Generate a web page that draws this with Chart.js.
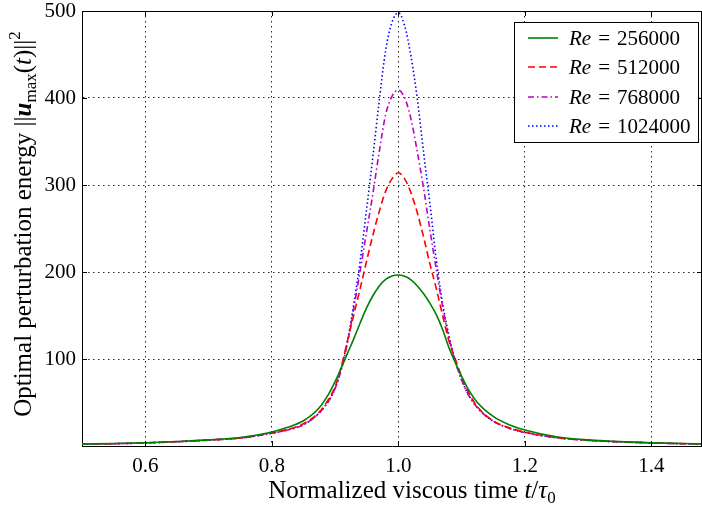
<!DOCTYPE html>
<html>
<head>
<meta charset="utf-8">
<script src="https://cdn.jsdelivr.net/npm/chart.js@4.4.0/dist/chart.umd.min.js"></script>
<style>
  html, body { margin: 0; padding: 0; background: #fff; }
</style>
</head>
<body>
<canvas id="energy" width="702" height="505"></canvas>
<script>
// normalized viscous time t/tau0
const times = [0.5, 0.55, 0.6, 0.65, 0.7, 0.75, 0.8, 0.825, 0.85, 0.875, 0.89, 0.9, 0.91, 0.92, 0.93,
  0.94, 0.95, 0.96, 0.97, 0.98, 0.99, 1.0, 1.01, 1.02, 1.03, 1.04, 1.05, 1.06, 1.07, 1.08, 1.09,
  1.1, 1.11, 1.125, 1.15, 1.175, 1.2, 1.25, 1.3, 1.35, 1.4, 1.45, 1.48];

// optimal perturbation energy, one list per Reynolds number
const re256000 = [2.2, 2.8, 3.7, 5.2, 7.0, 9.8, 16, 21.5, 29, 44, 60, 74, 90, 107, 124,
  142, 159, 173, 184, 191.5, 195.5, 196.5, 195, 191, 184, 175, 164, 151, 134, 113, 96,
  80, 66, 50, 34, 24.5, 18.4, 10.6, 7, 5, 3.7, 2.8, 2.3];
const re512000 = [2.1, 2.7, 3.6, 5.0, 6.8, 9.3, 15, 19, 25.5, 39, 54, 68, 92, 122, 152,
  182, 213, 243, 270, 293, 307, 314, 307, 291, 268, 240, 209, 181, 150, 121, 100,
  80, 63, 45, 29, 21, 16, 9.7, 6.6, 4.8, 3.6, 2.7, 2.2];
const re768000 = [2.0, 2.6, 3.5, 4.9, 6.7, 9.1, 14.6, 18.5, 24.5, 38, 52, 66, 88, 120, 160,
  203, 247, 291, 339, 381, 402, 409, 400, 376, 338, 296, 248, 203, 160, 124, 97,
  76, 60, 44, 28.5, 20.5, 15.5, 9.5, 6.5, 4.7, 3.5, 2.6, 2.2];
const re1024000 = [2.0, 2.6, 3.5, 4.9, 6.7, 9.1, 14.6, 18.5, 24.5, 38, 52, 66, 90, 122, 165,
  214, 273, 334, 398, 455, 487, 498, 483, 448, 399, 337, 278, 214, 164, 127, 98,
  76, 60, 44, 28.5, 20.5, 15.5, 9.5, 6.5, 4.7, 3.5, 2.6, 2.2];

const reLabels = ['256000', '512000', '768000', '1024000'];
const xTicks = [0.6, 0.8, 1.0, 1.2, 1.4];
const yTicks = [100, 200, 300, 400, 500];

const SERIF = "'Liberation Serif', 'DejaVu Serif', serif";
const f = (size, style) => (style ? style + ' ' : '') + size + 'px ' + SERIF;

function pts(values) {
  return times.map((t, i) => ({ x: t, y: values[i] }));
}

function line(values, color, dash) {
  return {
    data: pts(values),
    borderColor: color,
    backgroundColor: color,
    borderWidth: 1.6,
    borderDash: dash,
    pointRadius: 0,
    fill: false,
    cubicInterpolationMode: 'monotone',
  };
}

function richWidth(ctx, parts) {
  let w = 0;
  for (const p of parts) { ctx.font = p.font; w += ctx.measureText(p.text).width; }
  return w;
}
function drawRich(ctx, parts, x, y) {
  let cx = x;
  for (const p of parts) {
    ctx.font = p.font;
    ctx.fillText(p.text, cx, y + (p.dy || 0));
    cx += ctx.measureText(p.text).width;
  }
}

const yTitle = [
  { text: 'Optimal perturbation energy ', font: f(25) },
  { text: '||', font: f(25) },
  { text: 'u', font: f(25, 'italic bold') },
  { text: 'max', font: f(17), dy: 5 },
  { text: '(', font: f(25) },
  { text: 't', font: f(25, 'italic') },
  { text: ')||', font: f(25) },
  { text: '2', font: f(17), dy: -11 },
];
const xTitle = [
  { text: 'Normalized viscous time ', font: f(25) },
  { text: 't', font: f(25, 'italic') },
  { text: '/', font: f(25) },
  { text: '\u03c4', font: f(25, 'italic') },
  { text: '0', font: f(17), dy: 5 },
];

const decorations = {
  id: 'decorations',
  afterDraw(chart) {
    const ctx = chart.ctx;
    const a = chart.chartArea;
    const xs = chart.scales.x, ys = chart.scales.y;
    ctx.save();
    ctx.strokeStyle = '#000';
    ctx.lineWidth = 1;
    // frame top / right
    ctx.beginPath();
    ctx.moveTo(a.left, a.top + 0.5); ctx.lineTo(a.right, a.top + 0.5);
    ctx.moveTo(a.right - 0.5, a.top); ctx.lineTo(a.right - 0.5, a.bottom);
    ctx.stroke();
    // inward tick marks
    ctx.beginPath();
    for (const v of xTicks) {
      const px = Math.round(xs.getPixelForValue(v)) + 0.5;
      ctx.moveTo(px, a.bottom); ctx.lineTo(px, a.bottom - 5);
      ctx.moveTo(px, a.top); ctx.lineTo(px, a.top + 5);
    }
    for (const v of yTicks) {
      const py = Math.round(ys.getPixelForValue(v)) + 0.5;
      ctx.moveTo(a.left, py); ctx.lineTo(a.left + 5, py);
      ctx.moveTo(a.right, py); ctx.lineTo(a.right - 5, py);
    }
    ctx.stroke();

    ctx.fillStyle = '#000';
    ctx.textBaseline = 'alphabetic';
    ctx.textAlign = 'left';
    // x title
    const xw = richWidth(ctx, xTitle);
    drawRich(ctx, xTitle, 412 - xw / 2, 498);
    // y title
    const yw = richWidth(ctx, yTitle);
    ctx.save();
    ctx.translate(31, 224);
    ctx.rotate(-Math.PI / 2);
    drawRich(ctx, yTitle, -yw / 2, 0);
    ctx.restore();

    // legend
    const bx = 514.5, by = 22.5, bw = 184, bh = 120;
    ctx.fillStyle = '#fff';
    ctx.fillRect(bx, by, bw, bh);
    ctx.strokeRect(bx, by, bw, bh);
    const rows = [38, 67, 97, 126];
    chart.data.datasets.forEach((ds, i) => {
      const ry = rows[i];
      ctx.save();
      ctx.strokeStyle = ds.borderColor;
      ctx.lineWidth = ds.borderWidth;
      ctx.setLineDash(ds.borderDash || []);
      ctx.beginPath();
      ctx.moveTo(528, ry); ctx.lineTo(558, ry);
      ctx.stroke();
      ctx.restore();
      ctx.fillStyle = '#000';
      drawRich(ctx, [
        { text: 'Re', font: f(21, 'italic') },
        { text: ' \u200a=\u200a ' + reLabels[i], font: f(21) },
      ], 569, ry + 7);
    });
    ctx.restore();
  }
};

new Chart(document.getElementById('energy'), {
  type: 'line',
  data: {
    datasets: [
      line(re256000, 'rgb(0,128,0)', []),
      line(re512000, 'rgb(255,0,0)', [7, 4]),
      line(re768000, 'rgb(191,0,191)', [6, 3, 1.5, 3]),
      line(re1024000, 'rgb(0,0,255)', [1.5, 2.5]),
    ],
  },
  options: {
    responsive: false,
    animation: false,
    layout: { padding: { top: 11, right: 0, left: 0, bottom: 0 } },
    plugins: { legend: { display: false }, tooltip: { enabled: false } },
    scales: {
      x: {
        type: 'linear',
        min: 0.5,
        max: 1.48,
        afterBuildTicks: s => { s.ticks = xTicks.map(v => ({ value: v })); },
        afterFit: s => { s.height = 59; s.paddingLeft = 0; s.paddingRight = 0; },
        ticks: {
          color: '#000',
          font: { family: SERIF, size: 21 },
          padding: 8,
          maxRotation: 0,
          callback: v => v.toFixed(1),
        },
        grid: { color: 'rgba(0,0,0,0.85)', lineWidth: 1, drawTicks: false },
        border: { display: true, color: '#000', width: 1, dash: [1.5, 3.5] },
      },
      y: {
        type: 'linear',
        min: 0,
        max: 500,
        afterBuildTicks: s => { s.ticks = yTicks.map(v => ({ value: v })); },
        afterFit: s => { s.width = 82; s.paddingTop = 0; s.paddingBottom = 0; },
        ticks: {
          color: '#000',
          font: { family: SERIF, size: 21 },
          padding: 6,
        },
        grid: { color: 'rgba(0,0,0,0.85)', lineWidth: 1, drawTicks: false },
        border: { display: true, color: '#000', width: 1, dash: [1.5, 3.5] },
      },
    },
  },
  plugins: [decorations],
});
</script>
</body>
</html>
